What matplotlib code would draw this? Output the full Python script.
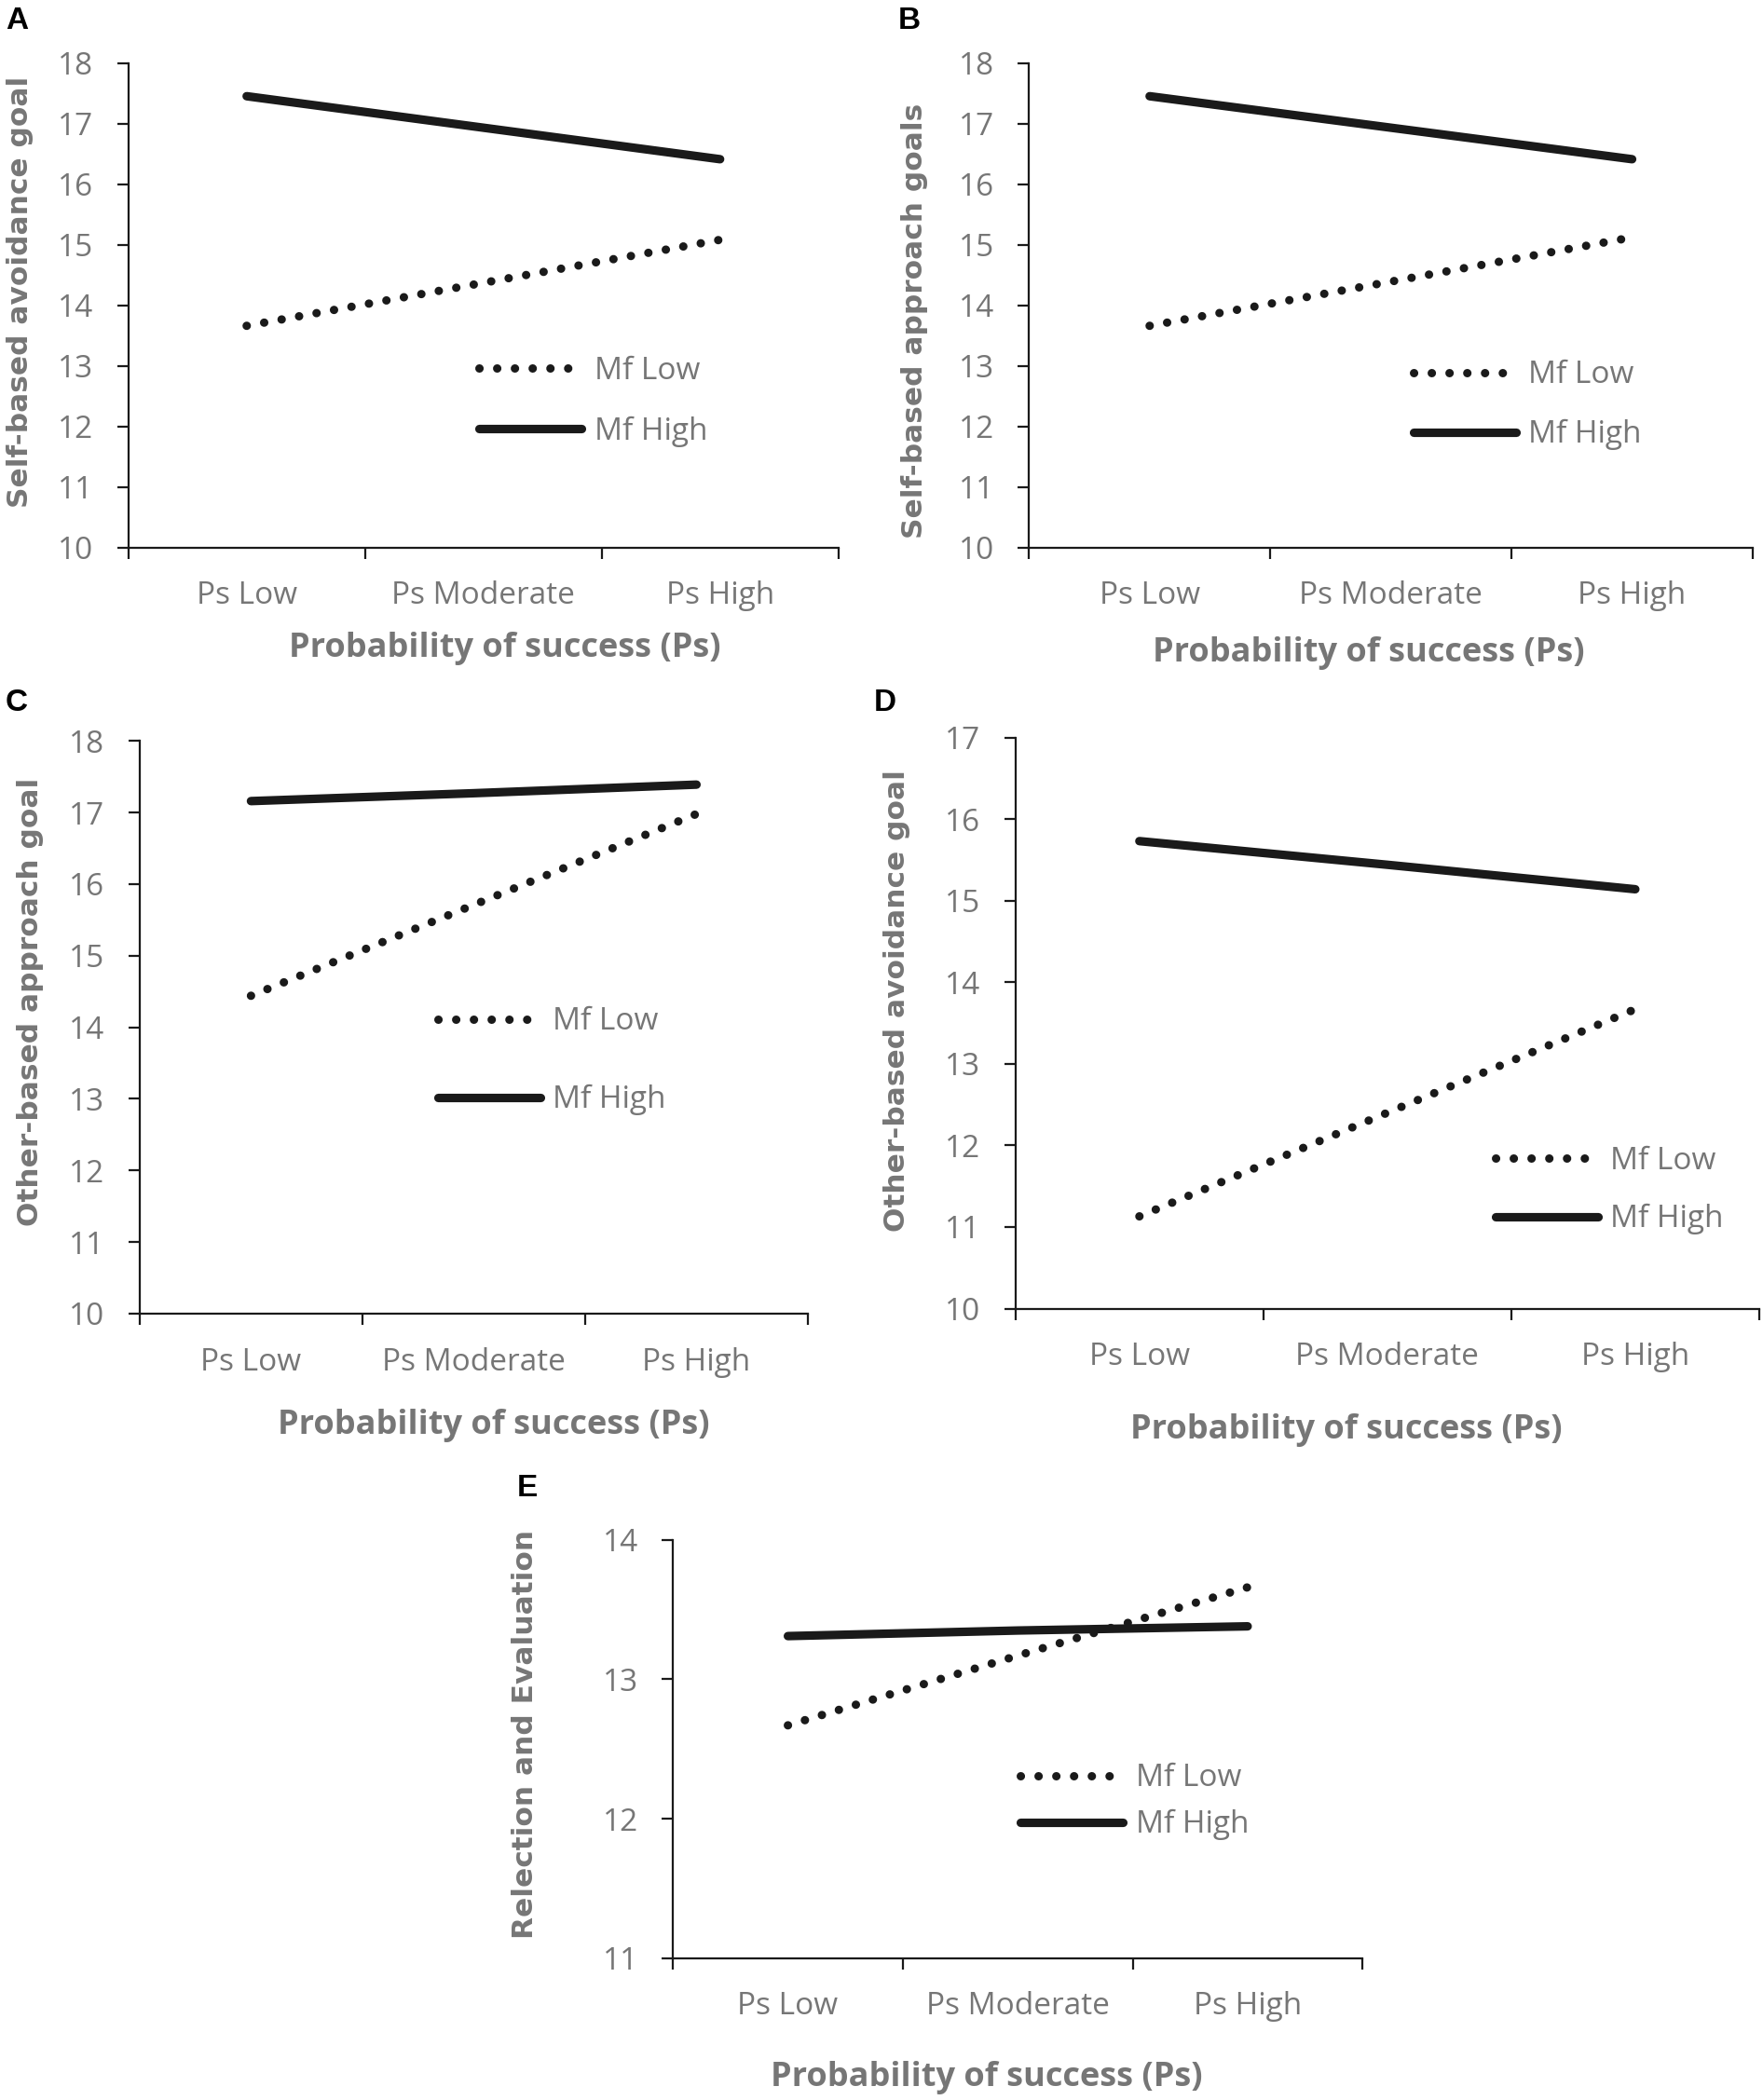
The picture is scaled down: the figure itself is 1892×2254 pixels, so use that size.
import matplotlib
matplotlib.use("Agg")
import matplotlib.pyplot as plt

plt.rcParams['font.family'] = ['Open Sans', 'DejaVu Sans']

categories = ['Ps Low', 'Ps Moderate', 'Ps High']
series_names = ['Mf Low', 'Mf High']
xlabel = 'Probability of success (Ps)'

a_low = [13.66, 14.37, 15.08]
a_high = [17.45, 16.93, 16.41]
b_low = [13.66, 14.39, 15.12]
b_high = [17.45, 16.93, 16.41]
c_low = [14.44, 15.71, 16.98]
c_high = [17.16, 17.27, 17.39]
d_low = [11.13, 12.40, 13.67]
d_high = [15.73, 15.44, 15.14]
e_low = [12.67, 13.17, 13.66]
e_high = [13.31, 13.35, 13.38]

ylabels = ['Self-based avoidance goal', 'Self-based approach goals',
           'Other-based approach goal', 'Other-based avoidance goal',
           'Relection and Evaluation']
ylims = [(10, 18), (10, 18), (10, 18), (10, 17), (11, 14)]
letters = ['A', 'B', 'C', 'D', 'E']

W, H = 1892, 2254
fig = plt.figure(figsize=(W / 100, H / 100), dpi=100)

GRAY = '#767676'
INK = '#1a1a1a'

# axes boxes in pixels: left, right, top, bottom
boxes = [(137.7, 899.8, 67.5, 587.7),
         (1104.3, 1881.0, 67.5, 587.7),
         (149.8, 867.0, 795.3, 1409.9),
         (1089.7, 1888.0, 791.6, 1404.5),
         (722.2, 1462.3, 1652.8, 2101.8)]
legend_pos = [(0.494, 0.302, 0.95), (0.531, 0.294, 0.92), (0.446, 0.441, 1.52),
              (0.6455, 0.207, 0.87), (0.504, 0.374, 0.5)]
xlab_pos = [(0.5305, -0.2255), (0.4696, -0.2343), (0.530, -0.2107),
            (0.445, -0.2271), (0.4548, -0.3056)]
ylab_pos = [(-0.1522, 0.528), (-0.1575, 0.4685), (-0.1629, 0.545),
            (-0.1593, 0.539), (-0.2138, 0.536)]
letter_pos = [(6, 31), (964, 31), (6, 763), (938, 763), (555, 1606)]

lows = [a_low, b_low, c_low, d_low, e_low]
highs = [a_high, b_high, c_high, d_high, e_high]

for i in range(5):
    l, r, t, b = boxes[i]
    ax = fig.add_axes([l / W, 1 - b / H, (r - l) / W, (b - t) / H])
    x = range(len(categories))
    ln_low, = ax.plot(x, lows[i], color=INK, lw=6.5, linestyle=(0, (0.01, 2.1)),
                      dash_capstyle='round', solid_capstyle='round')
    ln_high, = ax.plot(x, highs[i], color=INK, lw=6.6, solid_capstyle='round')

    ax.set_xlim(-0.5, len(categories) - 0.5)
    ax.set_ylim(*ylims[i])
    ax.set_yticks(range(ylims[i][0], ylims[i][1] + 1))
    ax.set_xticks([-0.5, 0.5, 1.5, 2.5])
    ax.set_xticklabels([])
    ax.set_xticks(list(x), minor=True)
    ax.set_xticklabels(categories, minor=True)

    for s in ['top', 'right']:
        ax.spines[s].set_visible(False)
    for s in ['left', 'bottom']:
        ax.spines[s].set_linewidth(1.6)
        ax.spines[s].set_color(INK)
    ax.tick_params(which='major', length=8.8, width=1.6, color=INK,
                   labelsize=24, labelcolor=GRAY, direction='out')
    ax.tick_params(axis='y', pad=18)
    ax.tick_params(axis='x', which='minor', length=0, pad=25.7,
                   labelsize=24, labelcolor=GRAY)

    ax.set_xlabel(xlabel, fontsize=26, fontweight='bold', color=GRAY)
    ax.xaxis.set_label_coords(*xlab_pos[i])
    ax.xaxis.label.set_va('baseline')
    ax.set_ylabel(ylabels[i], fontsize=22.5, fontweight='bold', color=GRAY,
                  family='DejaVu Sans')
    ax.yaxis.set_label_coords(*ylab_pos[i])
    ax.yaxis.label.set_va('center')

    lx, ly, sp = legend_pos[i]
    ax.legend([ln_low, ln_high], series_names, loc='center left',
              bbox_to_anchor=(lx, ly), frameon=False, fontsize=24,
              labelcolor=GRAY, handlelength=3.3, handletextpad=0.4,
              labelspacing=sp, borderpad=0, borderaxespad=0)

    px, py = letter_pos[i]
    fig.text(px / W, 1 - py / H, letters[i], fontsize=24, fontweight='bold',
             family='Liberation Sans', color='black', va='baseline', ha='left')

fig.savefig('out.png', dpi=100, facecolor='white')
